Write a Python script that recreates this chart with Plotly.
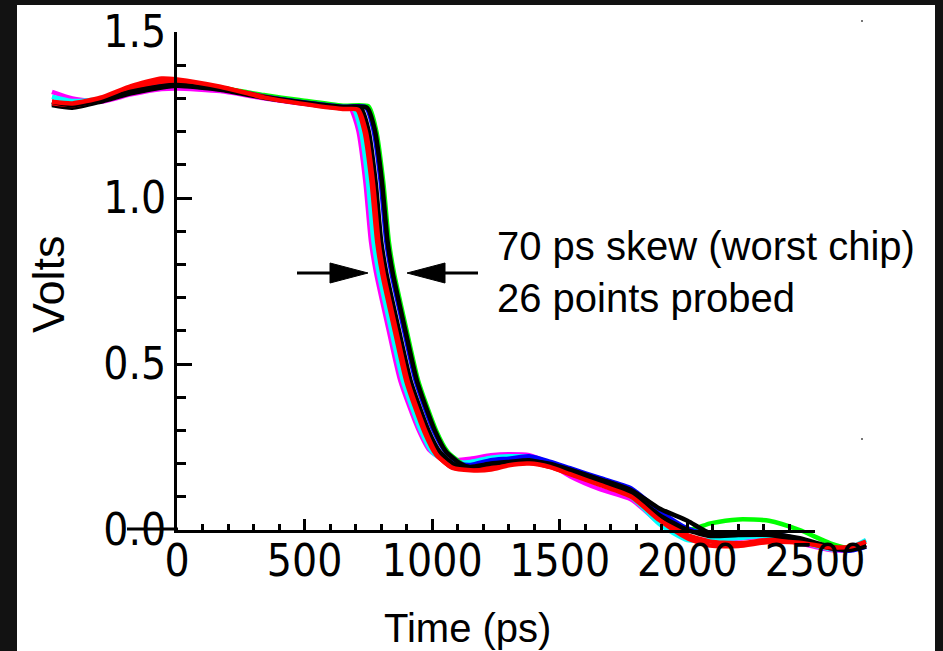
import plotly.graph_objects as go

# ---------------- data ----------------
T_PRE = [-490, -410, -300, -180, -60, 0, 170, 340, 480, 650]
T_POST = [1150, 1230, 1300, 1380, 1460, 1540, 1660, 1780, 1890, 2000,
          2090, 2200, 2320, 2440, 2560, 2640, 2700]

edge_magenta = [680, 710, 738, 760, 780, 830, 875, 945, 990, 1050]
edge_cyan = [690, 720, 748, 770, 790, 840, 885, 955, 1000, 1060]
edge_red_b = [705, 735, 763, 785, 805, 855, 900, 970, 1015, 1075]
edge_red_a = [710, 740, 768, 790, 810, 860, 905, 975, 1020, 1080]
edge_black_b = [720, 750, 778, 800, 820, 870, 915, 985, 1030, 1090]
edge_blue = [740, 770, 798, 820, 840, 890, 935, 1005, 1050, 1110]
edge_black_a = [745, 775, 803, 825, 845, 895, 940, 1010, 1055, 1115]
edge_green = [750, 780, 808, 830, 850, 900, 945, 1015, 1060, 1120]

v_magenta = [1.32, 1.30, 1.29, 1.312, 1.328, 1.33, 1.322, 1.30, 1.285, 1.272,
             1.27, 1.205, 1.05, 0.87, 0.775, 0.60, 0.45, 0.305, 0.24, 0.21,
             0.215, 0.225, 0.228, 0.225, 0.2, 0.162, 0.122, 0.092, 0.022, -0.022,
             -0.032, -0.026, -0.02, -0.04, -0.06, -0.06, -0.048]
v_cyan = [1.305, 1.292, 1.298, 1.322, 1.338, 1.34, 1.33, 1.303, 1.286, 1.27,
          1.27, 1.205, 1.05, 0.87, 0.775, 0.60, 0.45, 0.30, 0.235, 0.205,
          0.205, 0.218, 0.222, 0.22, 0.2, 0.175, 0.14, 0.1, 0.018, -0.03,
          -0.03, -0.024, -0.018, -0.034, -0.058, -0.052, -0.03]
v_red_b = [1.285, 1.28, 1.297, 1.33, 1.35, 1.35, 1.333, 1.305, 1.287, 1.27,
           1.268, 1.2, 1.045, 0.865, 0.77, 0.595, 0.445, 0.295, 0.228, 0.19,
           0.184, 0.19, 0.2, 0.205, 0.19, 0.17, 0.14, 0.105, 0.035, -0.015,
           -0.035, -0.04, -0.03, -0.035, -0.055, -0.055, -0.045]
v_red_a = [1.29, 1.285, 1.302, 1.337, 1.36, 1.357, 1.335, 1.303, 1.285, 1.268,
           1.266, 1.2, 1.045, 0.865, 0.77, 0.595, 0.445, 0.295, 0.225, 0.187,
           0.18, 0.182, 0.195, 0.2, 0.19, 0.168, 0.135, 0.1, 0.03, -0.025,
           -0.047, -0.048, -0.036, -0.038, -0.052, -0.05, -0.035]
v_black_b = [1.29, 1.28, 1.295, 1.32, 1.337, 1.34, 1.328, 1.304, 1.289, 1.274,
             1.272, 1.205, 1.05, 0.87, 0.775, 0.60, 0.45, 0.30, 0.235, 0.196,
             0.19, 0.2, 0.205, 0.21, 0.196, 0.175, 0.145, 0.11, 0.045, 0.0,
             -0.018, -0.015, -0.015, -0.03, -0.054, -0.06, -0.045]
v_blue = [1.285, 1.278, 1.295, 1.322, 1.338, 1.342, 1.33, 1.306, 1.29, 1.275,
          1.273, 1.205, 1.05, 0.87, 0.775, 0.60, 0.45, 0.30, 0.238, 0.2,
          0.196, 0.21, 0.215, 0.222, 0.206, 0.186, 0.156, 0.125, 0.058, 0.005,
          -0.015, -0.01, -0.01, -0.028, -0.055, -0.062, -0.05]
v_black_a = [1.28, 1.272, 1.29, 1.315, 1.333, 1.338, 1.326, 1.302, 1.287, 1.273,
             1.272, 1.205, 1.05, 0.87, 0.775, 0.60, 0.45, 0.30, 0.235, 0.198,
             0.188, 0.196, 0.2, 0.206, 0.2, 0.182, 0.152, 0.12, 0.065, 0.028,
             -0.01, -0.012, -0.012, -0.025, -0.05, -0.058, -0.05]
v_green = [1.285, 1.276, 1.292, 1.318, 1.335, 1.34, 1.332, 1.31, 1.295, 1.278,
           1.276, 1.205, 1.05, 0.87, 0.775, 0.60, 0.45, 0.30, 0.236, 0.198,
           0.19, 0.2, 0.205, 0.21, 0.2, 0.18, 0.15, 0.115, 0.05, 0.0,
           0.02, 0.032, 0.028, 0.0, -0.04, -0.055, -0.05]

x_tickvals = [0, 500, 1000, 1500, 2000, 2500]
y_tickvals = [0.0, 0.5, 1.0, 1.5]
x_title = "Time (ps)"
y_title = "Volts"
note_text = "70 ps skew (worst chip)<br>26 points probed"

traces = [
    ("#ff00ff", edge_magenta, v_magenta),
    ("#00ffff", edge_cyan, v_cyan),
    ("#00ff00", edge_green, v_green),
    ("#0000ff", edge_blue, v_blue),
    ("#000000", edge_black_a, v_black_a),
    ("#ff0000", edge_red_b, v_red_b),
    ("#000000", edge_black_b, v_black_b),
    ("#ff0000", edge_red_a, v_red_a),
]

# ---------------- layout geometry ----------------
W, H = 943, 651
ML, MR, MT, MB = 40, 43, 20, 51
PW = W - ML - MR
PH = H - MT - MB
X0PX, XENDPX = 177, 815      # pixel of t=0 and t=2500
Y0PX, YTOPPX = 530, 32       # pixel of v=0 and v=1.5
sx = (XENDPX - X0PX) / 2500.0
sy = (Y0PX - YTOPPX) / 1.5
x_range = [(ML - X0PX) / sx, (W - MR - X0PX) / sx]
y_range = [(Y0PX - (H - MB)) / sy, (Y0PX - MT) / sy]


def pxp(px):
    return (px - ML) / PW


def pyp(py):
    return (H - MB - py) / PH


fig = go.Figure()
for color, edge, vals in traces:
    fig.add_trace(go.Scatter(
        x=T_PRE + edge + T_POST, y=vals, mode="lines",
        line=dict(color=color, width=4.5, shape="spline", smoothing=0.6),
        showlegend=False, hoverinfo="skip", xaxis="x", yaxis="y"))

fig.add_trace(go.Scatter(x=[None], y=[None], xaxis="x2", yaxis="y2",
                         showlegend=False, hoverinfo="skip"))

tick_font = dict(family="Liberation Sans Narrow, DejaVu Sans Condensed, Arial Narrow, sans-serif",
                 size=44, color="black")
txt_font = dict(family="Liberation Sans, Arial, Helvetica, sans-serif", size=40, color="black")

shapes = [
    dict(type="rect", xref="paper", yref="paper", x0=pxp(17), x1=pxp(935),
         y0=pyp(660), y1=pyp(5), fillcolor="white", line=dict(width=0), layer="below"),
    # tiny specks in the scan
    dict(type="rect", xref="paper", yref="paper", x0=pxp(861), x1=pxp(863),
         y0=pyp(22), y1=pyp(20), fillcolor="#777777", line=dict(width=0)),
    dict(type="rect", xref="paper", yref="paper", x0=pxp(861), x1=pxp(863),
         y0=pyp(440), y1=pyp(438), fillcolor="#777777", line=dict(width=0)),
    # x-axis line extension through the "0.0" label
    dict(type="line", xref="paper", yref="paper", x0=pxp(127), x1=pxp(178),
         y0=pyp(529), y1=pyp(529), line=dict(color="black", width=3)),
    # left arrow
    dict(type="line", xref="paper", yref="paper", x0=pxp(297), x1=pxp(335),
         y0=pyp(273), y1=pyp(273), line=dict(color="black", width=3)),
    dict(type="path", xref="paper", yref="paper",
         path=f"M {pxp(330)} {pyp(263)} L {pxp(368)} {pyp(273)} L {pxp(330)} {pyp(283)} Z",
         fillcolor="black", line=dict(color="black", width=1)),
    # right arrow
    dict(type="line", xref="paper", yref="paper", x0=pxp(440), x1=pxp(478),
         y0=pyp(273), y1=pyp(273), line=dict(color="black", width=3)),
    dict(type="path", xref="paper", yref="paper",
         path=f"M {pxp(445)} {pyp(263)} L {pxp(407)} {pyp(273)} L {pxp(445)} {pyp(283)} Z",
         fillcolor="black", line=dict(color="black", width=1)),
]

annotations = [
    dict(text=x_title, xref="paper", yref="paper", x=pxp(467), y=pyp(628),
         showarrow=False, font=txt_font, xanchor="center", yanchor="middle"),
    dict(text=y_title, xref="paper", yref="paper", x=pxp(48), y=pyp(284),
         showarrow=False, font=dict(txt_font, size=45), textangle=-90,
         xanchor="center", yanchor="middle"),
    dict(text=note_text, xref="paper", yref="paper", x=pxp(495), y=pyp(272),
         showarrow=False, font=txt_font, align="left", xanchor="left", yanchor="middle"),
]

fig.update_layout(
    template="none",
    width=W, height=H, autosize=False,
    margin=dict(l=ML, r=MR, t=MT, b=MB, pad=0, autoexpand=False),
    paper_bgcolor="#121212", plot_bgcolor="rgba(0,0,0,0)",
    xaxis=dict(range=x_range, domain=[0, 1], visible=False, fixedrange=True, automargin=False),
    yaxis=dict(range=y_range, domain=[0, 1], visible=False, fixedrange=True, automargin=False),
    xaxis2=dict(range=[0, 2500], domain=[pxp(X0PX), pxp(XENDPX)], anchor="y2", automargin=False,
                showline=True, linecolor="black", linewidth=3, showgrid=False, zeroline=False,
                tickmode="array", tickvals=x_tickvals, ticktext=[str(v) for v in x_tickvals],
                ticks="inside", ticklen=11, tickwidth=3, tickcolor="black",
                minor=dict(ticks="inside", dtick=100, tick0=0, ticklen=6, tickwidth=3,
                           tickcolor="black", showgrid=False),
                tickfont=tick_font, ticklabelstandoff=-10, fixedrange=True),
    yaxis2=dict(range=[0, 1.5], domain=[pyp(Y0PX), pyp(YTOPPX)], anchor="x2", automargin=False,
                showline=True, linecolor="black", linewidth=3, showgrid=False, zeroline=False,
                tickmode="array", tickvals=y_tickvals,
                ticktext=[f"{v:.1f}" for v in y_tickvals],
                ticks="inside", ticklen=15, tickwidth=3, tickcolor="black",
                minor=dict(ticks="inside", dtick=0.1, tick0=0, ticklen=9, tickwidth=3,
                           tickcolor="black", showgrid=False),
                tickfont=tick_font, ticklabelstandoff=-1, fixedrange=True),
    shapes=shapes, annotations=annotations,
)

fig.write_html(
    "out.html",
    config={"displayModeBar": False},
    post_script="document.documentElement.style.margin='0';"
                "document.body.style.margin='0';"
                "document.body.style.overflow='hidden';"
                "document.body.style.background='#121212';",
)
